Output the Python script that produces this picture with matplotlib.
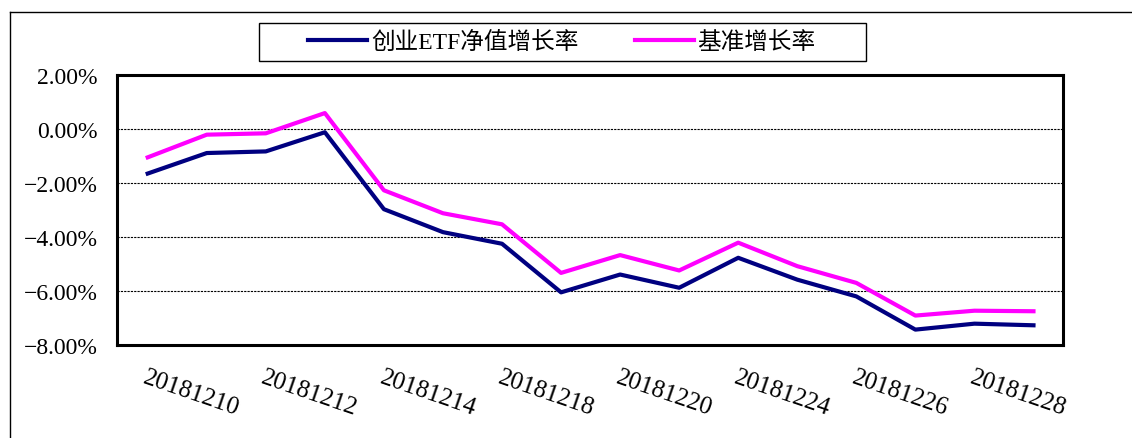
import matplotlib.pyplot as plt
from matplotlib.patches import Rectangle
from matplotlib.lines import Line2D

# 日期（每隔一个显示标签）
dates = ['20181210', '20181211', '20181212', '20181213', '20181214',
         '20181217', '20181218', '20181219', '20181220', '20181221',
         '20181224', '20181225', '20181226', '20181227', '20181228',
         '20181231']
# 创业ETF净值增长率 (%)
etf = [-1.65, -0.89, -0.83, -0.12, -2.97, -3.82, -4.25, -6.05,
       -5.39, -5.88, -4.77, -5.58, -6.20, -7.43, -7.21, -7.27]
# 基准增长率 (%)
bench = [-1.05, -0.21, -0.16, 0.59, -2.27, -3.12, -3.53, -5.33,
         -4.67, -5.24, -4.21, -5.08, -5.70, -6.91, -6.73, -6.75]
yticks = [2, 0, -2, -4, -6, -8]

W, H = 1132, 439
fig = plt.figure(figsize=(W / 100, H / 100), dpi=100)

# 外框（只有上边和左边可见）
fig.add_artist(Line2D([10 / W, 1], [1 - 13 / H, 1 - 13 / H], color='black', lw=1,
                      transform=fig.transFigure))
fig.add_artist(Line2D([10 / W, 10 / W], [1 - 13 / H, 0], color='black', lw=1,
                      transform=fig.transFigure))

ax = fig.add_axes([117 / W, 1 - 346 / H, (1063 - 117) / W, (346 - 76) / H])
x = list(range(len(dates)))
l1, = ax.plot(x, etf, color='#000080', lw=3, label='创业ETF净值增长率')
l2, = ax.plot(x, bench, color='#FF00FF', lw=3, label='基准增长率')

ax.set_xlim(-0.52, 15.5)
ax.set_ylim(-8, 2)
for v in [0, -2, -4, -6]:
    ax.axhline(v, color='black', lw=0.8, ls=(0, (2, 1)), zorder=0)

ax.set_yticks(yticks)
ax.set_yticklabels([('%.2f%%' % v).replace('-', '\u2212') for v in yticks],
                   family='Liberation Serif', fontsize=17)
ax.set_xticks(x[::2])
ax.set_xticklabels(dates[::2], family='Liberation Serif', fontsize=18,
                   rotation=-19, ha='left', va='top', rotation_mode='anchor')
ax.tick_params(axis='both', length=0)
ax.tick_params(axis='y', pad=14)
ax.tick_params(axis='x', pad=15)
for s in ax.spines.values():
    s.set_linewidth(2.2)

# 图例
fig.add_artist(Rectangle((259 / W, 1 - 62 / H), (866 - 259) / W, 38 / H,
                         transform=fig.transFigure, fill=False,
                         edgecolor='black', lw=1))
fig.legend(handles=[l1, l2], loc='center', bbox_to_anchor=(562 / W, 1 - 43 / H),
           ncol=2, frameon=False, handlelength=2.5, handletextpad=0.15,
           columnspacing=2.4, prop={'family': ['Liberation Serif', 'Noto Sans CJK SC'],
                                    'size': 17})

fig.savefig('out.png', dpi=100)
